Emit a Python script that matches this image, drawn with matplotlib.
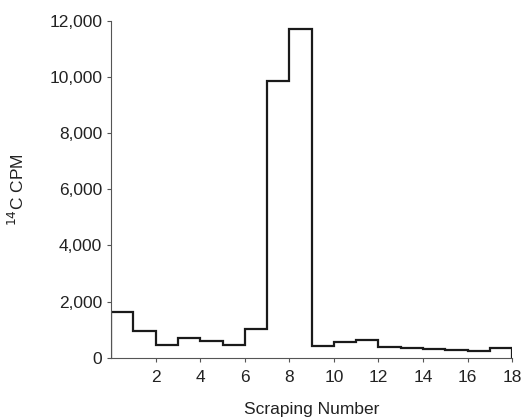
import matplotlib
matplotlib.use("Agg")
import matplotlib.pyplot as plt
from matplotlib.ticker import FuncFormatter

plt.rcParams["font.family"] = ["Liberation Sans", "DejaVu Sans"]

# counts per scraping (bins 0-1, 1-2, ..., 17-18)
scrapings = list(range(19))
cpm = [1640, 960, 460, 720, 600, 460, 1020, 9870, 11700,
       430, 560, 640, 400, 340, 320, 260, 250, 340]

fig = plt.figure(figsize=(5.22, 4.17), dpi=100)
ax = fig.add_axes([0.213, 0.142, 0.768, 0.808])

ax.stairs(cpm, scrapings, color="#1a1a1a", linewidth=1.6)

ax.set_xlim(0, 18)
ax.set_ylim(0, 12000)
ax.set_xticks(range(2, 19, 2))
ax.set_yticks(range(0, 12001, 2000))
ax.yaxis.set_major_formatter(FuncFormatter(lambda v, p: f"{int(v):,}"))

for side in ["top", "right"]:
    ax.spines[side].set_visible(False)
for side in ["left", "bottom"]:
    ax.spines[side].set_color("#555555")
    ax.spines[side].set_linewidth(0.8)

ax.tick_params(colors="#555555", labelcolor="#222222", labelsize=12.5,
               length=3, width=0.8)
ax.tick_params(axis="x", pad=6)

ax.set_xlabel("Scraping Number", fontsize=12.5, color="#222222", labelpad=12)
ax.set_ylabel("$^{14}$C CPM", fontsize=12.5, color="#222222", labelpad=16)

fig.savefig("out.png", dpi=100)
